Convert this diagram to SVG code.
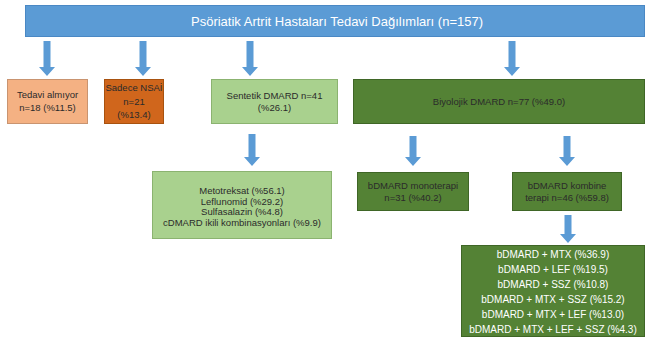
<svg xmlns="http://www.w3.org/2000/svg" width="646" height="344" viewBox="0 0 646 344">
<style>
text{font-family:"Liberation Sans",Arial,sans-serif;text-anchor:middle}
.t{font-size:9.5px;fill:#2b2b2b}
.w{font-size:10px;fill:#ffffff}
.ttl{font-size:13px;fill:#ffffff}
.blue{fill:#5b9bd5;stroke:#4a88c4;stroke-width:1}
.peach{fill:#f4b183;stroke:#c99470;stroke-width:1}
.orange{fill:#d0661c;stroke:#a8520f;stroke-width:1}
.lg{fill:#a9d18e;stroke:#8bb370;stroke-width:1}
.dg{fill:#548235;stroke:#3f6626;stroke-width:1}
.arr{fill:#5b9bd5}
</style>
<g id="connectors">
<path class="arr" d="M43.5,41 H50.5 V67 H55 L47,76 L39,67 H43.5 Z"/>
<path class="arr" d="M139.5,41 H146.5 V67 H151 L143,76 L135,67 H139.5 Z"/>
<path class="arr" d="M246.5,41 H253.5 V67 H258 L250,76 L242,67 H246.5 Z"/>
<path class="arr" d="M508.5,41 H515.5 V67 H520 L512,76 L504,67 H508.5 Z"/>
<path class="arr" d="M248.5,134 H255.5 V157 H260 L252,166 L244,157 H248.5 Z"/>
<path class="arr" d="M409.5,136 H416.5 V157 H421 L413,166 L405,157 H409.5 Z"/>
<path class="arr" d="M563.5,136 H570.5 V157 H575 L567,166 L559,157 H563.5 Z"/>
<path class="arr" d="M564.5,215 H571.5 V234 H576 L568,243 L560,234 H564.5 Z"/>
</g>
<g id="title">
<rect class="blue" x="25.5" y="5.5" width="619" height="31"/>
<text class="ttl" x="337" y="25.5">Psöriatik Artrit Hastaları Tedavi Dağılımları (n=157)</text>
</g>
<g id="tedavi-almiyor">
<rect class="peach" x="7.5" y="79.5" width="80" height="44"/>
<text class="t" x="47.5" y="98">Tedavi almıyor</text>
<text class="t" x="47.5" y="111">n=18 (%11.5)</text>
</g>
<g id="sadece-nsai">
<rect class="orange" x="104.5" y="79.5" width="59" height="44"/>
<text class="t" x="134" y="91">Sadece NSAİ</text>
<text class="t" x="134" y="104.5">n=21</text>
<text class="t" x="134" y="118">(%13.4)</text>
</g>
<g id="sentetik-dmard">
<rect class="lg" x="211.5" y="79.5" width="126" height="44"/>
<text class="t" x="274.5" y="98.5">Sentetik DMARD n=41</text>
<text class="t" x="274.5" y="111">(%26.1)</text>
</g>
<g id="biyolojik-dmard">
<rect class="dg" x="353.5" y="79.5" width="291" height="44"/>
<text class="t" x="499" y="105">Biyolojik DMARD n=77 (%49.0)</text>
</g>
<g id="sentetik-list">
<rect class="lg" x="152.5" y="171.5" width="179" height="67"/>
<text class="t" x="242" y="194">Metotreksat (%56.1)</text>
<text class="t" x="242" y="204.5">Leflunomid (%29.2)</text>
<text class="t" x="242" y="215">Sulfasalazin (%4.8)</text>
<text class="t" x="242" y="225.5">cDMARD ikili kombinasyonları (%9.9)</text>
</g>
<g id="bdmard-monoterapi">
<rect class="dg" x="357.5" y="172.5" width="111" height="38"/>
<text class="t" x="413" y="188.5">bDMARD monoterapi</text>
<text class="t" x="413" y="200.5">n=31 (%40.2)</text>
</g>
<g id="bdmard-kombine">
<rect class="dg" x="512.5" y="172.5" width="109" height="38"/>
<text class="t" x="567" y="188.5">bDMARD kombine</text>
<text class="t" x="567" y="200.5">terapi n=46 (%59.8)</text>
</g>
<g id="kombine-list">
<rect class="dg" x="461.5" y="245.5" width="183" height="91"/>
<text class="w" x="553" y="257.5">bDMARD + MTX (%36.9)</text>
<text class="w" x="553" y="272.5">bDMARD + LEF (%19.5)</text>
<text class="w" x="553" y="287.5">bDMARD + SSZ (%10.8)</text>
<text class="w" x="553" y="302.5">bDMARD + MTX + SSZ (%15.2)</text>
<text class="w" x="553" y="317.5">bDMARD + MTX + LEF (%13.0)</text>
<text class="w" x="553" y="332.5">bDMARD + MTX + LEF + SSZ (%4.3)</text>
</g>
</svg>
